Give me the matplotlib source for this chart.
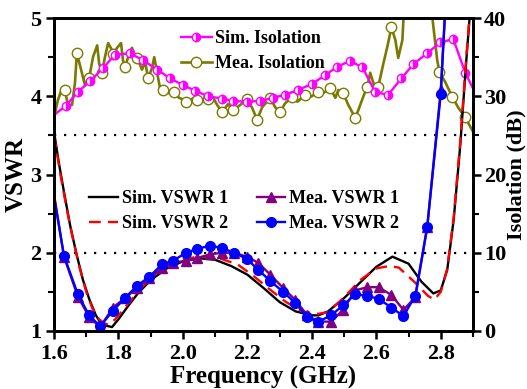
import matplotlib
matplotlib.use("Agg")
import matplotlib.pyplot as plt
from matplotlib.ticker import MultipleLocator, FormatStrFormatter

plt.rcParams['font.family'] = ['Liberation Serif', 'DejaVu Serif']
plt.rcParams['font.weight'] = 'bold'

# ---------------- data ----------------
sim1_f = [1.600, 1.615, 1.630, 1.650, 1.670, 1.690, 1.710, 1.730, 1.745, 1.760, 1.780, 1.800,
          1.830, 1.860, 1.900, 1.950, 2.000, 2.050, 2.100, 2.150, 2.200, 2.250, 2.300, 2.350,
          2.400, 2.420, 2.450, 2.500, 2.550, 2.600, 2.650, 2.700, 2.740, 2.777, 2.800, 2.820,
          2.840, 2.860, 2.880, 2.895]
sim1_v = [3.55, 3.15, 2.80, 2.35, 1.98, 1.65, 1.40, 1.20, 1.10, 1.07, 1.05, 1.15,
          1.32, 1.48, 1.65, 1.80, 1.89, 1.93, 1.91, 1.83, 1.72, 1.55, 1.37, 1.25,
          1.20, 1.20, 1.25, 1.42, 1.62, 1.82, 1.95, 1.86, 1.63, 1.48, 1.52, 1.78,
          2.42, 3.35, 4.50, 5.30]

sim2_f = [1.600, 1.620, 1.640, 1.660, 1.680, 1.700, 1.720, 1.740, 1.755, 1.770, 1.790, 1.820,
          1.860, 1.900, 1.950, 2.000, 2.050, 2.080, 2.120, 2.170, 2.220, 2.270, 2.320, 2.370,
          2.420, 2.450, 2.500, 2.550, 2.600, 2.640, 2.670, 2.720, 2.760, 2.780, 2.800, 2.820,
          2.840, 2.860, 2.880, 2.895]
sim2_v = [3.50, 3.00, 2.55, 2.15, 1.80, 1.50, 1.28, 1.15, 1.10, 1.08, 1.15, 1.30,
          1.50, 1.68, 1.84, 1.92, 1.95, 1.95, 1.92, 1.85, 1.70, 1.53, 1.37, 1.25,
          1.22, 1.24, 1.43, 1.65, 1.80, 1.83, 1.81, 1.62, 1.45, 1.40, 1.50, 1.80,
          2.45, 3.40, 4.55, 5.30]

mea_f = [1.600, 1.631, 1.674, 1.709, 1.743, 1.783, 1.820, 1.858, 1.895, 1.935, 1.970, 2.010,
         2.044, 2.084, 2.122, 2.159, 2.199, 2.234, 2.271, 2.311, 2.348, 2.386, 2.420, 2.460,
         2.497, 2.535, 2.572, 2.607, 2.647, 2.684, 2.721, 2.758, 2.800, 2.815]
mea1_v = [2.75, 1.95, 1.44, 1.18, 1.05, 1.30, 1.42, 1.55, 1.68, 1.80, 1.87, 1.90,
          1.93, 1.98, 2.00, 2.00, 1.95, 1.87, 1.72, 1.55, 1.40, 1.20, 1.12, 1.12,
          1.27, 1.52, 1.56, 1.56, 1.46, 1.27, 1.43, 2.33, 4.08, 5.20]
mea2_v = [2.72, 1.96, 1.47, 1.20, 1.06, 1.26, 1.42, 1.58, 1.69, 1.85, 1.90, 2.00,
          2.05, 2.09, 2.06, 2.00, 1.92, 1.78, 1.64, 1.50, 1.36, 1.18, 1.12, 1.20,
          1.33, 1.47, 1.45, 1.41, 1.30, 1.19, 1.45, 2.33, 4.03, 5.20]

simiso_f = [1.600, 1.637, 1.675, 1.712, 1.752, 1.789, 1.836, 1.876, 1.920, 1.960, 2.001, 2.038,
            2.078, 2.122, 2.156, 2.199, 2.240, 2.280, 2.317, 2.358, 2.401, 2.442, 2.479, 2.519,
            2.557, 2.597, 2.637, 2.678, 2.715, 2.758, 2.799, 2.839, 2.876, 2.900]
simiso_db = [27.6, 28.8, 30.6, 31.9, 33.6, 35.3, 35.5, 34.6, 33.4, 32.3, 31.4, 30.7,
             30.0, 29.7, 29.4, 29.3, 29.4, 29.8, 30.2, 30.8, 31.6, 32.7, 33.8, 34.5,
             33.7, 30.5, 30.2, 32.3, 34.1, 35.5, 36.9, 37.3, 33.0, 31.0]

meaiso_f = [1.603, 1.612, 1.625, 1.634, 1.643, 1.656, 1.665, 1.671, 1.684, 1.696, 1.709, 1.721,
            1.734, 1.740, 1.749, 1.758, 1.768, 1.780, 1.783, 1.796, 1.808, 1.814, 1.820, 1.830,
            1.842, 1.852, 1.858, 1.873, 1.883, 1.892, 1.904, 1.911, 1.920, 1.929, 1.939, 1.954,
            1.973, 1.985, 2.010, 2.022, 2.038, 2.044, 2.060, 2.078, 2.094, 2.106, 2.122, 2.140,
            2.156, 2.178, 2.199, 2.215, 2.230, 2.246, 2.271, 2.286, 2.302, 2.317, 2.339, 2.355,
            2.380, 2.395, 2.420, 2.435, 2.457, 2.473, 2.482, 2.497, 2.513, 2.535, 2.560, 2.572,
            2.581, 2.594, 2.606, 2.622, 2.634, 2.647, 2.659, 2.668, 2.681, 2.684, 2.706, 2.721,
            2.740, 2.758, 2.774, 2.789, 2.796, 2.814, 2.836, 2.855, 2.876, 2.901]
meaiso_db = [27.8, 29.5, 31.0, 30.8, 28.9, 28.9, 31.7, 35.5, 33.4, 31.4, 32.3, 35.0,
             36.5, 34.2, 33.0, 35.0, 36.8, 35.9, 35.4, 36.2, 36.8, 34.6, 33.7, 35.0,
             36.2, 35.0, 34.9, 33.4, 34.4, 32.3, 33.6, 35.0, 33.0, 31.0, 30.8, 30.4,
             30.5, 29.9, 29.3, 29.5, 29.9, 29.5, 29.3, 29.6, 29.8, 28.9, 28.0, 29.0,
             28.2, 28.9, 29.6, 28.5, 27.0, 28.6, 29.8, 28.6, 28.0, 29.1, 29.9, 29.3,
             30.2, 29.9, 30.5, 30.4, 31.0, 29.8, 30.8, 30.4, 28.9, 27.2, 30.0, 31.2,
             33.0, 31.3, 31.2, 34.2, 36.3, 38.8, 37.2, 34.9, 37.2, 39.7, 45.0, 48.0,
             46.0, 44.0, 40.0, 34.6, 33.1, 31.8, 29.9, 28.5, 27.3, 25.4]
meaiso_mk_f = [1.634, 1.671, 1.709, 1.749, 1.783, 1.820, 1.858, 1.892, 1.939, 1.973, 2.010,
               2.044, 2.078, 2.122, 2.156, 2.199, 2.230, 2.271, 2.302, 2.339, 2.380, 2.420,
               2.457, 2.497, 2.535, 2.572, 2.606, 2.647, 2.721, 2.758, 2.796, 2.836, 2.876]
meaiso_mk_db = [30.8, 35.5, 32.3, 33.0, 35.4, 33.7, 34.9, 32.3, 30.8, 30.5, 29.3,
                29.5, 29.6, 28.0, 28.2, 29.6, 27.0, 29.8, 28.0, 29.9, 30.2, 30.5,
                31.0, 30.4, 27.2, 31.2, 31.2, 38.8, 48.0, 44.0, 33.1, 29.9, 27.3]

ref_vswr = [3.5, 2.0]

# ---------------- figure ----------------
W, H = 527, 389
fig = plt.figure(figsize=(W / 100, H / 100), dpi=100)
ax = fig.add_axes([54 / W, 1 - 331 / H, (473 - 54) / W, (331 - 18) / H])
ax2 = ax.twinx()
ax.set_zorder(ax2.get_zorder() + 1)
ax.patch.set_visible(False)

lw = 1.7
olive = '#7a7a00'
# isolation (right axis)
ax2.plot(meaiso_f, meaiso_db, color=olive, lw=1.9)
ax2.plot(meaiso_mk_f, meaiso_mk_db, ls='none', marker='o', markersize=7.5,
         markerfacecolor='white', markeredgecolor=olive, markeredgewidth=1.0)
l_si, = ax2.plot(simiso_f, simiso_db, color='#ff00ff', lw=lw, marker='o', markersize=6,
                 fillstyle='right', markerfacecolor='#ff00ff', markerfacecoloralt='white',
                 markeredgecolor='#ff00ff', markevery=slice(1, -1), label='Sim. Isolation')
l_mi, = ax2.plot([], [], color=olive, lw=1.9, marker='o', markersize=7.5,
                 markerfacecolor='white', markeredgecolor=olive, markeredgewidth=1.0,
                 label='Mea. Isolation')

# reference lines
for r in ref_vswr:
    ax.axhline(r, color='black', ls=(0, (1, 3.5)), lw=1.6)

# VSWR (left axis)
l_s1, = ax.plot(sim1_f, sim1_v, color='black', lw=lw, label='Sim. VSWR 1')
l_s2, = ax.plot(sim2_f, sim2_v, color='#ff0000', lw=lw, ls=(0, (5, 3)), label='Sim. VSWR 2')
l_m1, = ax.plot(mea_f, mea1_v, color='#800080', lw=lw, marker='^', markersize=7,
                markevery=slice(1, -1), label='Mea. VSWR 1')
l_m2, = ax.plot(mea_f, mea2_v, color='#0000ff', lw=lw, marker='o', markersize=7,
                markevery=slice(1, -1), label='Mea. VSWR 2')

ax.set_xlim(1.6, 2.9)
ax.set_ylim(1, 5)
ax2.set_ylim(0, 40)

ax.xaxis.set_major_locator(MultipleLocator(0.2))
ax.xaxis.set_minor_locator(MultipleLocator(0.1))
ax.xaxis.set_major_formatter(FormatStrFormatter('%.1f'))
ax.yaxis.set_major_locator(MultipleLocator(1))
ax.yaxis.set_minor_locator(MultipleLocator(0.5))
ax2.yaxis.set_major_locator(MultipleLocator(10))
ax2.yaxis.set_minor_locator(MultipleLocator(5))

for a in (ax, ax2):
    a.tick_params(which='major', direction='out', length=6, width=1.8, labelsize=16)
    a.tick_params(which='minor', direction='out', length=4, width=1.5)
    for s in a.spines.values():
        s.set_linewidth(2)
ax.tick_params(axis='y', pad=3)
ax2.tick_params(axis='y', pad=2)

ax.set_xlabel('Frequency (GHz)', fontsize=18, fontweight='bold', labelpad=1)
ax.set_ylabel('VSWR', fontsize=18, fontweight='bold', labelpad=2)
ax2.set_ylabel('Isolation (dB)', fontsize=16, fontweight='bold', labelpad=0)

leg1 = ax2.legend(handles=[l_si, l_mi], loc='upper left',
                  bbox_to_anchor=(172 / W, 1 - 21 / H), bbox_transform=fig.transFigure,
                  frameon=False, handlelength=1.7, handletextpad=0.2,
                  borderpad=0, labelspacing=0.45, prop={'weight': 'bold', 'size': 13})
leg2 = ax.legend(handles=[l_s1, l_s2, l_m1, l_m2], loc='upper left', ncol=2,
                 bbox_to_anchor=(80 / W, 1 - 181 / H), bbox_transform=fig.transFigure,
                 frameon=False, handlelength=1.6, handletextpad=0.2, columnspacing=1.6,
                 borderpad=0, labelspacing=0.45, prop={'weight': 'bold', 'size': 13})

fig.savefig('out.png', dpi=100)
